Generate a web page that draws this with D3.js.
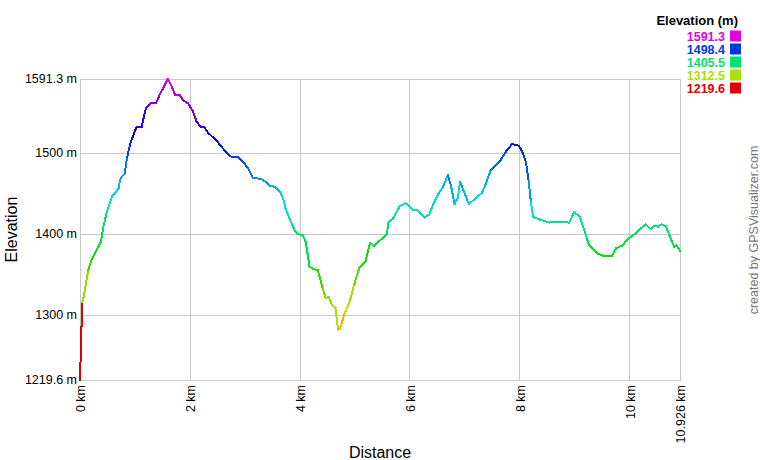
<!DOCTYPE html>
<html>
<head>
<meta charset="utf-8">
<script src="https://cdn.jsdelivr.net/npm/d3@7"></script>
<style>
  body { margin: 0; background: #fff; }
  text { font-family: Arial, "Liberation Sans", sans-serif; }
</style>
</head>
<body>
<script>
// track profile
var distKm = [0, 0.04, 0.06, 0.15, 0.21, 0.30, 0.38, 0.42, 0.48, 0.58, 0.70, 0.74, 0.81, 0.86, 0.91, 0.96,
  1.03, 1.12, 1.20, 1.29, 1.39, 1.45, 1.53, 1.60, 1.67, 1.73, 1.82, 1.88, 1.97, 2.06, 2.12, 2.20,
  2.26, 2.33, 2.49, 2.55, 2.67, 2.76, 2.87, 2.97, 3.06, 3.15, 3.21, 3.33, 3.45, 3.55, 3.64, 3.70,
  3.74, 3.84, 3.92, 3.98, 4.06, 4.11, 4.18, 4.24, 4.33, 4.42, 4.47, 4.53, 4.59, 4.65, 4.70, 4.73,
  4.82, 4.91, 5.00, 5.09, 5.20, 5.28, 5.35, 5.58, 5.62, 5.70, 5.82, 5.93, 6.06, 6.14, 6.27, 6.36,
  6.44, 6.52, 6.61, 6.70, 6.76, 6.82, 6.88, 6.92, 6.97, 7.08, 7.21, 7.32, 7.39, 7.48, 7.64, 7.76,
  7.87, 7.99, 8.05, 8.12, 8.17, 8.21, 8.25, 8.36, 8.55, 8.70, 8.91, 9.00, 9.10, 9.18, 9.27, 9.42,
  9.53, 9.69, 9.76, 9.88, 9.97, 10.12, 10.30, 10.39, 10.45, 10.52, 10.59, 10.67, 10.74, 10.82, 10.86, 10.926];
var elevM = [1219.6, 1316, 1320, 1355, 1368, 1380, 1390, 1407, 1425, 1446, 1456, 1469, 1474, 1495, 1510, 1520,
  1532, 1532, 1555, 1561, 1562, 1572, 1582, 1591.3, 1582, 1572, 1571, 1565, 1561, 1551, 1539, 1532,
  1532, 1525, 1515, 1510, 1500, 1495, 1495, 1489, 1481, 1469, 1469, 1467, 1460, 1458, 1452, 1444,
  1432, 1415, 1403, 1400, 1398, 1390, 1360, 1357, 1355, 1333, 1321, 1322, 1312, 1309, 1282, 1282,
  1302, 1316, 1339, 1359, 1366, 1389, 1385, 1399, 1414, 1419, 1434, 1438, 1430, 1429, 1420, 1424,
  1438, 1449, 1458, 1473, 1458, 1437, 1444, 1464, 1456, 1437, 1444, 1451, 1462, 1479, 1489, 1502,
  1511, 1509, 1502, 1489, 1465, 1440, 1421, 1418, 1414, 1415, 1414, 1427, 1421, 1405, 1386, 1376,
  1373, 1373, 1382, 1386, 1393, 1401, 1412, 1406, 1410, 1409, 1412, 1409, 1397, 1384, 1386, 1379];

var xTicks = [0, 2, 4, 6, 8, 10, 10.926];
var xTickLabels = ["0 km", "2 km", "4 km", "6 km", "8 km", "10 km", "10.926 km"];
var yTicks = [1219.6, 1300, 1400, 1500, 1591.3];
var yTickLabels = ["1219.6 m", "1300 m", "1400 m", "1500 m", "1591.3 m"];
var legendValues = [1591.3, 1498.4, 1405.5, 1312.5, 1219.6];

var W = 760, H = 460;
var plotL = 80, plotR = 680, plotT = 79, plotB = 380;

var svg = d3.select("body").append("svg")
    .attr("width", W)
    .attr("height", H);

var x = d3.scaleLinear().domain([0, 10.926]).range([plotL, plotR]);
var y = d3.scaleLinear().domain([1219.6, 1591.3]).range([plotB, plotT]);

// hue runs red -> magenta over the elevation range
function elevColor(e) {
  var h = 300 * (e - 1219.6) / (1591.3 - 1219.6);
  return d3.hsl(h, 1, 0.44).formatHex();
}

// grid
svg.append("g")
    .selectAll("line")
    .data(yTicks)
  .enter().append("line")
    .attr("x1", plotL).attr("x2", plotR + 1)
    .attr("y1", function(d) { return Math.round(y(d)) + 0.5; })
    .attr("y2", function(d) { return Math.round(y(d)) + 0.5; })
    .style("stroke", "#c8c8c8");

svg.append("g")
    .selectAll("line")
    .data(xTicks)
  .enter().append("line")
    .attr("x1", function(d) { return Math.round(x(d)) + 0.5; })
    .attr("x2", function(d) { return Math.round(x(d)) + 0.5; })
    .attr("y1", plotT).attr("y2", plotB + 1)
    .style("stroke", "#c8c8c8");

// y labels
svg.append("g")
    .selectAll("text")
    .data(yTicks)
  .enter().append("text")
    .attr("x", plotL - 3)
    .attr("y", function(d) { return y(d); })
    .attr("dy", "0.35em")
    .style("text-anchor", "end")
    .style("font-size", "12.5px")
    .style("fill", "#000")
    .text(function(d, i) { return yTickLabels[i]; });

// x labels (rotated)
svg.append("g")
    .selectAll("text")
    .data(xTicks)
  .enter().append("text")
    .attr("transform", function(d) { return "translate(" + (x(d) + 1) + "," + (plotB + 5) + ") rotate(-90)"; })
    .attr("dy", "0.35em")
    .style("text-anchor", "end")
    .style("font-size", "12.5px")
    .style("fill", "#000")
    .text(function(d, i) { return xTickLabels[i]; });

// profile, one segment per point pair, coloured by the starting elevation
var segs = d3.range(distKm.length - 1);
svg.append("g")
    .selectAll("line")
    .data(segs)
  .enter().append("line")
    .attr("x1", function(i) { return x(distKm[i]); })
    .attr("y1", function(i) { return y(elevM[i]); })
    .attr("x2", function(i) { return x(distKm[i + 1]); })
    .attr("y2", function(i) { return y(elevM[i + 1]); })
    .style("stroke", function(i) { return elevColor(elevM[i]); })
    .style("stroke-width", 2)
    .style("stroke-linecap", "square")
    .style("shape-rendering", "crispEdges");

// axis titles
svg.append("text")
    .attr("x", (plotL + plotR) / 2)
    .attr("y", 458)
    .style("text-anchor", "middle")
    .style("font-size", "16px")
    .text("Distance");

svg.append("text")
    .attr("transform", "translate(17," + ((plotT + plotB) / 2) + ") rotate(-90)")
    .style("text-anchor", "middle")
    .style("font-size", "16px")
    .text("Elevation");

svg.append("text")
    .attr("transform", "translate(758,230) rotate(-90)")
    .style("text-anchor", "middle")
    .style("font-size", "12.5px")
    .style("fill", "#777")
    .text("created by GPSVisualizer.com");

// legend
svg.append("text")
    .attr("x", 738)
    .attr("y", 25)
    .style("text-anchor", "end")
    .style("font-size", "13px")
    .style("font-weight", "bold")
    .text("Elevation (m)");

var legend = svg.selectAll(".legend")
    .data(legendValues)
  .enter().append("g")
    .attr("class", "legend")
    .attr("transform", function(d, i) { return "translate(0," + (36 + i * 13) + ")"; });

legend.append("rect")
    .attr("x", 730)
    .attr("y", -5.5)
    .attr("width", 11)
    .attr("height", 11)
    .style("fill", elevColor);

legend.append("text")
    .attr("x", 725)
    .attr("dy", "0.36em")
    .style("text-anchor", "end")
    .style("font-size", "12.5px")
    .style("font-weight", "bold")
    .style("fill", elevColor)
    .text(function(d) { return d.toFixed(1); });
</script>
</body>
</html>
